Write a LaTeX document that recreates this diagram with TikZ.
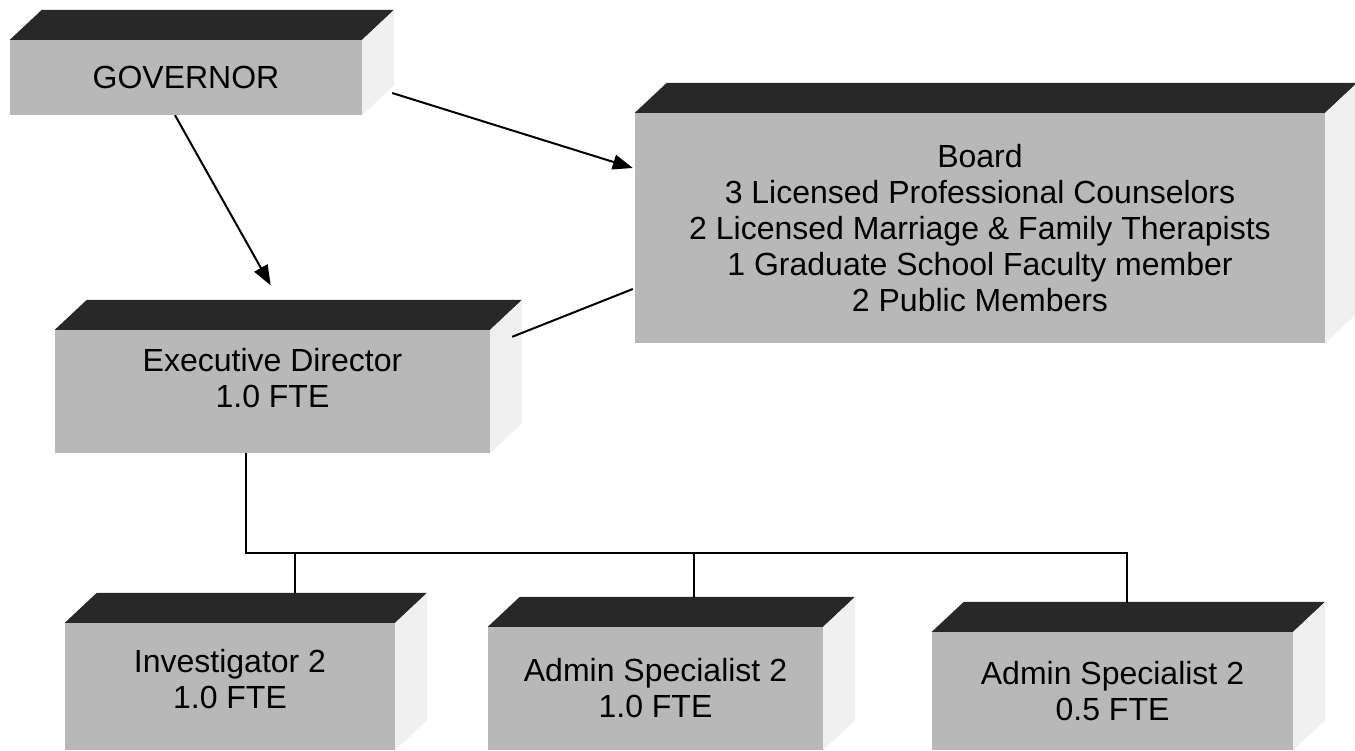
\documentclass[tikz,border=0pt]{standalone}
\usepackage{fontspec}
\setmainfont{Liberation Sans}
\usetikzlibrary{arrows.meta,calc}

\definecolor{facegray}{RGB}{184,184,184}
\definecolor{topgray}{RGB}{40,40,40}
\definecolor{sidegray}{RGB}{240,240,240}

\tikzset{
  front/.style={fill=facegray, draw=none, inner sep=0pt, align=center,
    font=\fontsize{32}{36}\selectfont},
  lbl/.style={inner sep=0pt, align=center, font=\fontsize{32}{36}\selectfont},
  conn/.style={draw=black, line width=2pt},
  arr/.style={conn, -{Triangle[length=20pt,width=15pt]}},
}

% top and right faces of a box whose front face is the node #1
\newcommand\boxfaces[1]{%
  \fill[topgray] (#1.north west) -- ++(32,-30) -- ([shift={(32,-30)}]#1.north east)
    -- (#1.north east) -- cycle;
  \fill[sidegray] (#1.north east) -- ++(32,-30) -- ([shift={(32,-30)}]#1.south east)
    -- (#1.south east) -- cycle;
}

\begin{document}
\begin{tikzpicture}[x=1pt,y=-1pt]
\useasboundingbox (0,0) rectangle (1355,750);

% front faces
\node[front, minimum width=352pt, minimum height=75pt] (gov) at (186,77.5) {GOVERNOR};
\node[front, minimum width=690pt, minimum height=230pt] (board) at (980,228)
  {Board\\3 Licensed Professional Counselors\\2 Licensed Marriage \& Family Therapists\\1 Graduate School Faculty member\\2 Public Members};
\node[front, minimum width=435pt, minimum height=123pt] (ed) at (272.5,391.5) {};
\node[lbl] (edtext) at (272.5,378) {Executive Director\\1.0 FTE};
\node[front, minimum width=330pt, minimum height=127pt] (inv) at (230,686.5) {};
\node[lbl] (invtext) at (230,679) {Investigator 2\\1.0 FTE};
\node[front, minimum width=335pt, minimum height=123pt] (adm1) at (655.5,688.5) {Admin Specialist 2\\1.0 FTE};
\node[front, minimum width=361pt, minimum height=118pt] (adm2) at (1112.5,691) {Admin Specialist 2\\0.5 FTE};

% top and side faces
\boxfaces{gov}
\boxfaces{board}
\boxfaces{ed}
\boxfaces{inv}
\boxfaces{adm1}
\boxfaces{adm2}

% reporting lines
\draw[arr, shorten >=20pt] ([xshift=-11pt]gov.south) -- ([shift={(8,-27)}]ed.north);
\draw[arr] ([shift={(30,15.5)}]gov.east) -- ([shift={(-2,-60)}]board.west);
\draw[conn] ([shift={(22,7)}]ed.north east) -- ([shift={(-2,61)}]board.west);

% staff tree
\coordinate (invT) at ([shift={(65,-30)}]inv.north);
\coordinate (adm1T) at ([shift={(38.5,-29)}]adm1.north);
\coordinate (adm2T) at ([shift={(14.5,-29)}]adm2.north);
\draw[conn] ([xshift=-27pt]ed.south) -- ++(0,100) coordinate (bus) -| (adm2T);
\draw[conn] (invT) -- (invT |- bus);
\draw[conn] (adm1T) -- (adm1T |- bus);
\end{tikzpicture}
\end{document}
